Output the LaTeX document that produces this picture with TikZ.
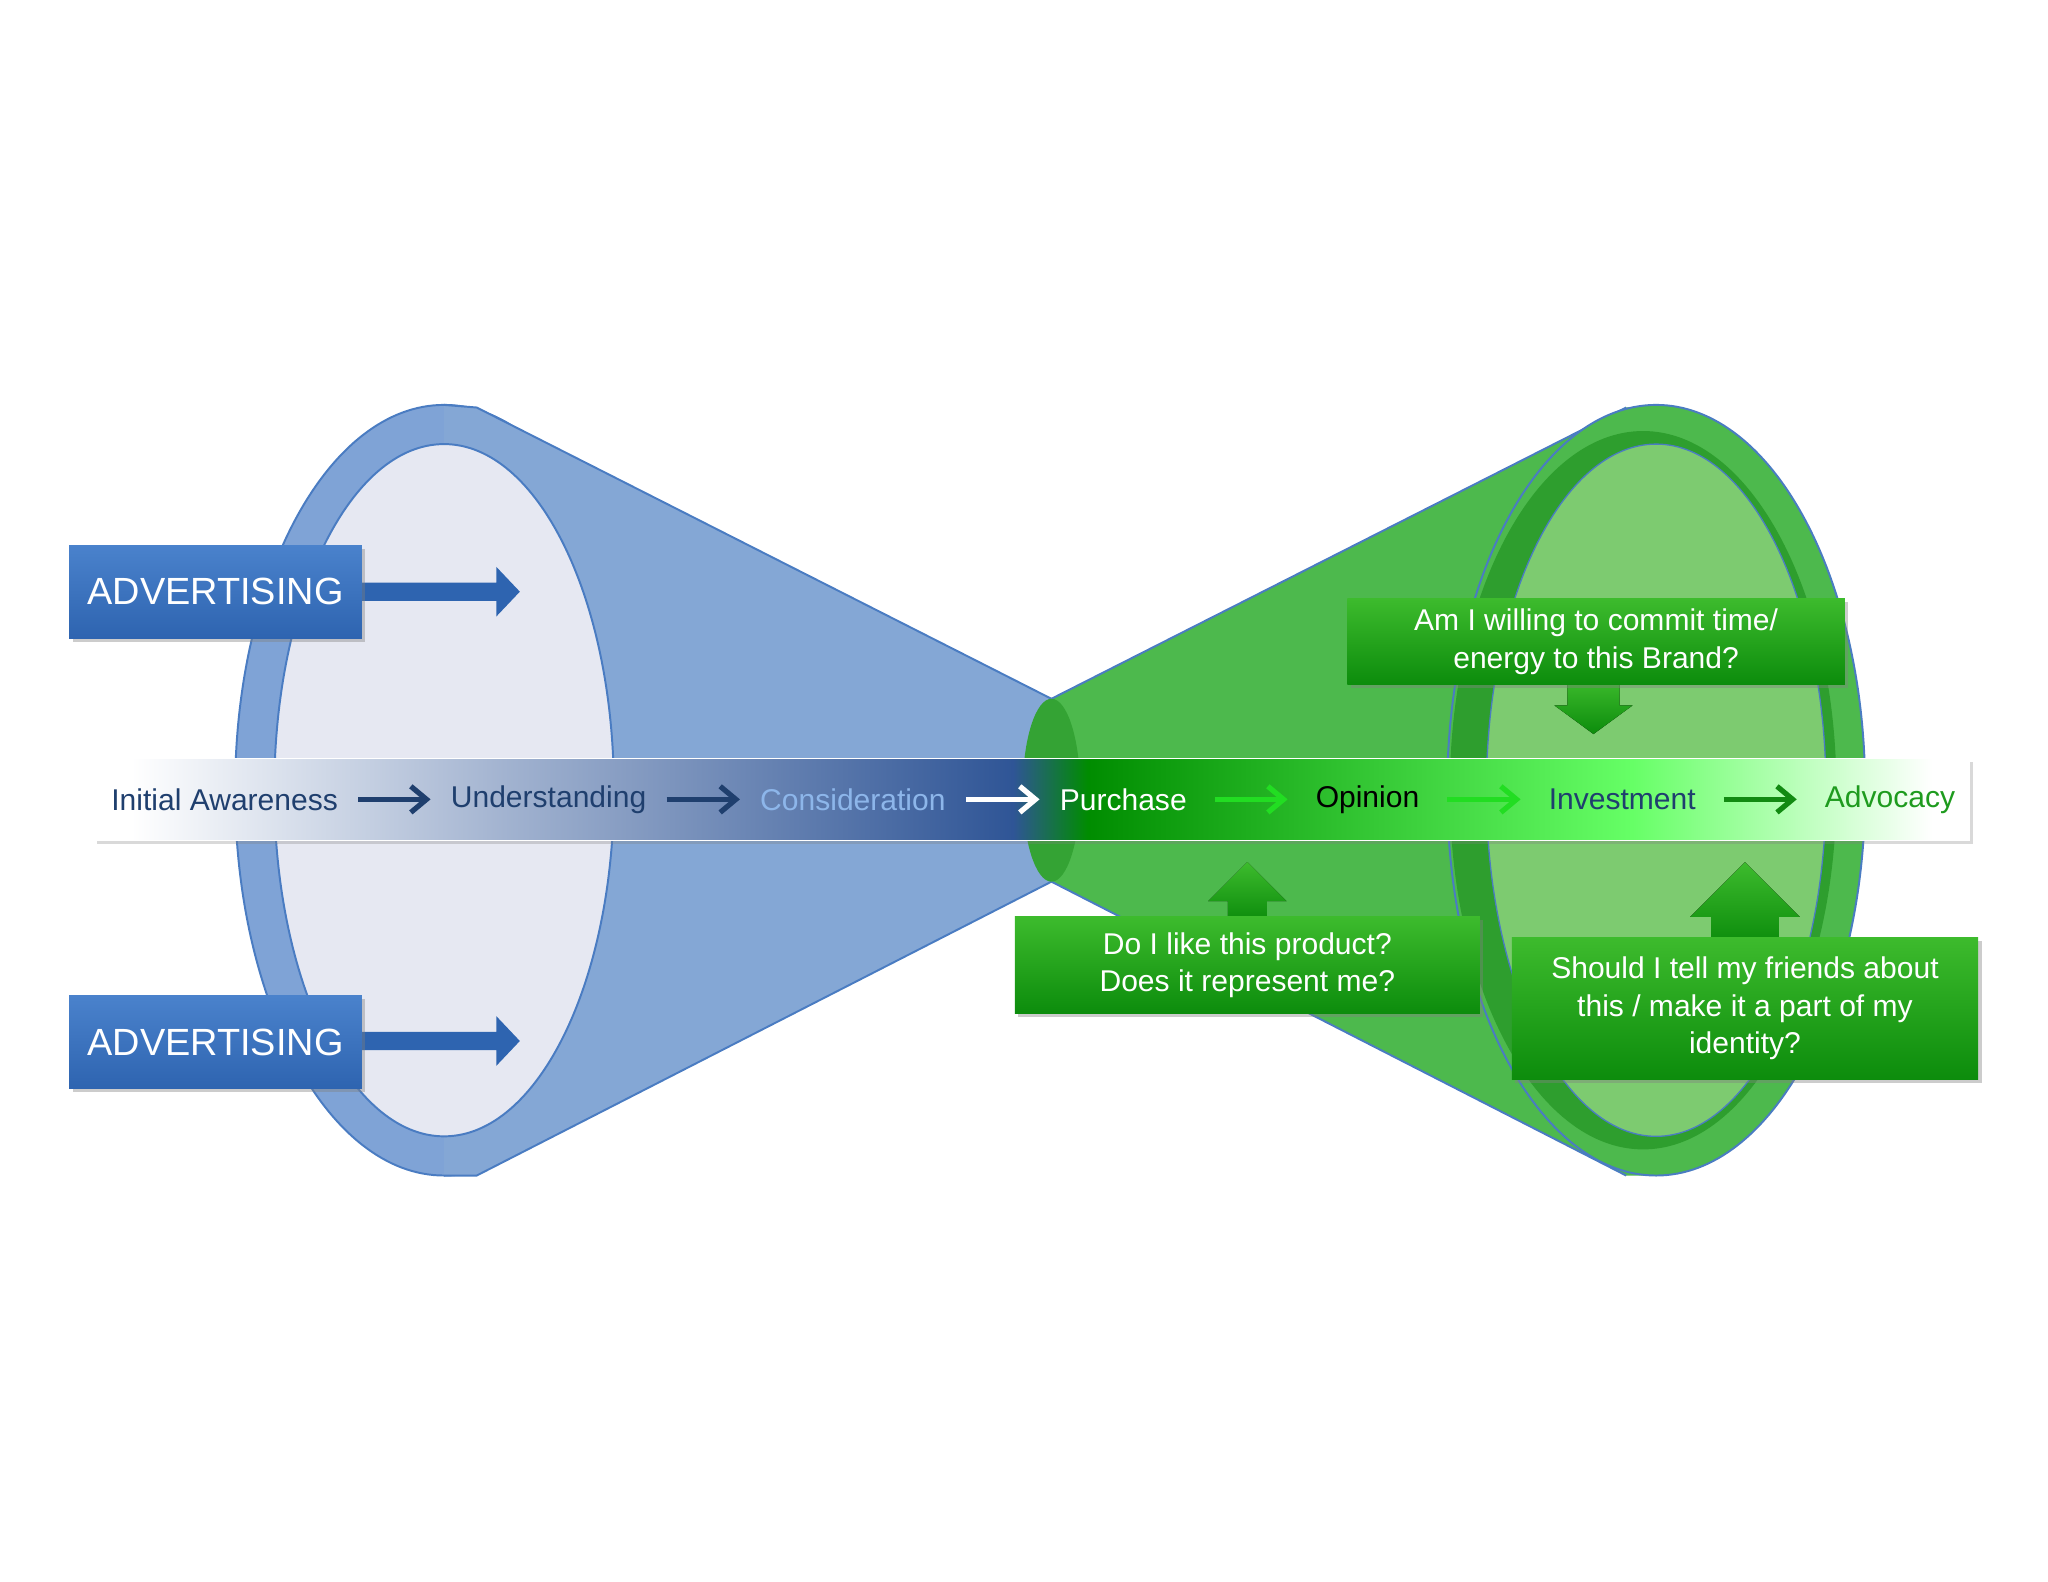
\documentclass[tikz,border=0pt]{standalone}
\usepackage{fontspec}
\setmainfont{Liberation Sans}
\usetikzlibrary{arrows.meta,shadows}
\definecolor{ring}{HTML}{7FA3D6}
\definecolor{conebl}{HTML}{84A7D5}
\definecolor{edgebl}{HTML}{4A7CC2}
\definecolor{inbl}{HTML}{E6E8F2}
\definecolor{gr}{HTML}{4DB94D}
\definecolor{grin}{HTML}{7DCB70}
\definecolor{gredge}{HTML}{2E9E2E}
\definecolor{dblue}{HTML}{1F3F6E}
\definecolor{lblue}{HTML}{8DB6EA}
\definecolor{advgr}{HTML}{1E9B1E}
\definecolor{bright}{HTML}{22DD22}
\definecolor{dgr}{HTML}{128A12}
\definecolor{bxa}{HTML}{3DBB2D}
\definecolor{bxb}{HTML}{0C8C0C}
\definecolor{adva}{HTML}{4A82CC}
\definecolor{advb}{HTML}{2E64B0}
\definecolor{bandbl}{HTML}{2F5596}
\pgfdeclarehorizontalshading{band}{100bp}{color(0bp)=(white); color(26bp)=(white); color(36bp)=(bandbl!45!white); color(49.5bp)=(bandbl); color(51.5bp)=(green!55!black); color(66bp)=(green!50!white!80!green); color(74bp)=(white); color(100bp)=(white)}
\tikzset{
 lbl/.style={font=\fontsize{23}{26}\selectfont},
 flow/.style={-{Straight Barb[length=12pt,width=20pt]},line width=4pt},
 adv/.style={top color=adva,bottom color=advb,draw=none,minimum width=224pt,minimum height=71pt,text=white,font=\fontsize{29}{32}\selectfont,drop shadow={opacity=0.4}},
 gbox/.style={top color=bxa,bottom color=bxb,draw=none,text=white,align=center,font=\fontsize{23}{29}\selectfont,drop shadow={opacity=0.4}},
 garrow/.style={top color=bxa,bottom color=bxb,draw=none},
 barrow/.style={fill=advb,draw=none},
}
\begin{document}
\begin{tikzpicture}[x=1pt,y=-1pt]
\useasboundingbox (0,0) rectangle (1568,1211);
% left cone
\fill[ring,draw=edgebl,line width=1.5pt] (340,605) ellipse (160 and 295);
\fill[conebl] (340,310) -- (365,312) -- (805,535) -- (805,675) -- (365,900) -- (340,900) -- cycle;
\draw[edgebl,line width=1.5pt] (340,310) -- (365,312) -- (805,535) (805,675) -- (365,900) -- (340,900);
\fill[inbl,draw=edgebl,line width=1.5pt] (340,605) ellipse (130 and 265);
% right cone
\fill[gr] (805,535) -- (1245,312) -- (1268,310) -- (1268,900) -- (1245,900) -- (805,675) -- cycle;
\draw[edgebl,line width=1.5pt] (805,535) -- (1245,312) (1245,900) -- (805,675);
\fill[gr,draw=edgebl,line width=1.5pt] (1268,605) ellipse (160 and 295);
\fill[gredge] (1258,605) ellipse (148 and 275);
\fill[grin,draw=edgebl,line width=1pt] (1268,605) ellipse (130 and 265);
\fill[gredge!80!gr] (805,605) ellipse (22 and 70);
% band
\node[shading=band,minimum width=1436pt,minimum height=63pt,inner sep=0,draw=white,line width=1pt,drop shadow={opacity=0.3}] (band) at (790,612) {};
\node[lbl,text=dblue] (ia) at (172,612) {Initial Awareness};
\node[lbl,text=dblue] (un) at (420,612) {Understanding};
\node[lbl,text=lblue] (co) at (653,612) {Consideration};
\node[lbl,text=white] (pu) at (860,612) {Purchase};
\node[lbl,text=black] (op) at (1047,612) {Opinion};
\node[lbl,text=dblue] (iv) at (1242,612) {Investment};
\node[lbl,text=advgr] (ad) at (1447,612) {Advocacy};
\draw[flow,dblue] ([xshift=12pt]ia.east) -- ([xshift=-12pt]un.west);
\draw[flow,dblue] ([xshift=12pt]un.east) -- ([xshift=-12pt]co.west);
\draw[flow,white] ([xshift=12pt]co.east) -- ([xshift=-12pt]pu.west);
\draw[flow,bright] ([xshift=18pt]pu.east) -- ([xshift=-18pt]op.west);
\draw[flow,bright] ([xshift=18pt]op.east) -- ([xshift=-18pt]iv.west);
\draw[flow,dgr] ([xshift=18pt]iv.east) -- ([xshift=-18pt]ad.west);
% advertising
\fill[barrow] (275,446) -- (380,446) -- (380,434) -- (398,453) -- (380,472) -- (380,460) -- (275,460) -- cycle;
\fill[barrow] (275,790) -- (380,790) -- (380,778) -- (398,797) -- (380,816) -- (380,804) -- (275,804) -- cycle;
\node[adv] (adv1) at (165,453) {ADVERTISING};
\node[adv] (adv2) at (165,798) {ADVERTISING};
% green questions
\fill[garrow] (1200,520) -- (1240,520) -- (1240,540) -- (1250,540) -- (1220,562) -- (1190,540) -- (1200,540) -- cycle;
\fill[garrow] (940,705) -- (970,705) -- (970,690) -- (985,690) -- (955,660) -- (925,690) -- (940,690) -- cycle;
\fill[garrow] (1310,722) -- (1362,722) -- (1362,702) -- (1378,702) -- (1336,660) -- (1294,702) -- (1310,702) -- cycle;
\node[gbox,minimum width=381pt,minimum height=66pt] (q1) at (1222,491) {Am I willing to commit time/\\energy to this Brand?};
\node[gbox,minimum width=356pt,minimum height=74pt] (q2) at (955,739) {Do I like this product?\\Does it represent me?};
\node[gbox,minimum width=357pt,minimum height=109pt] (q3) at (1336,772) {Should I tell my friends about\\this / make it a part of my\\identity?};
\end{tikzpicture}
\end{document}
